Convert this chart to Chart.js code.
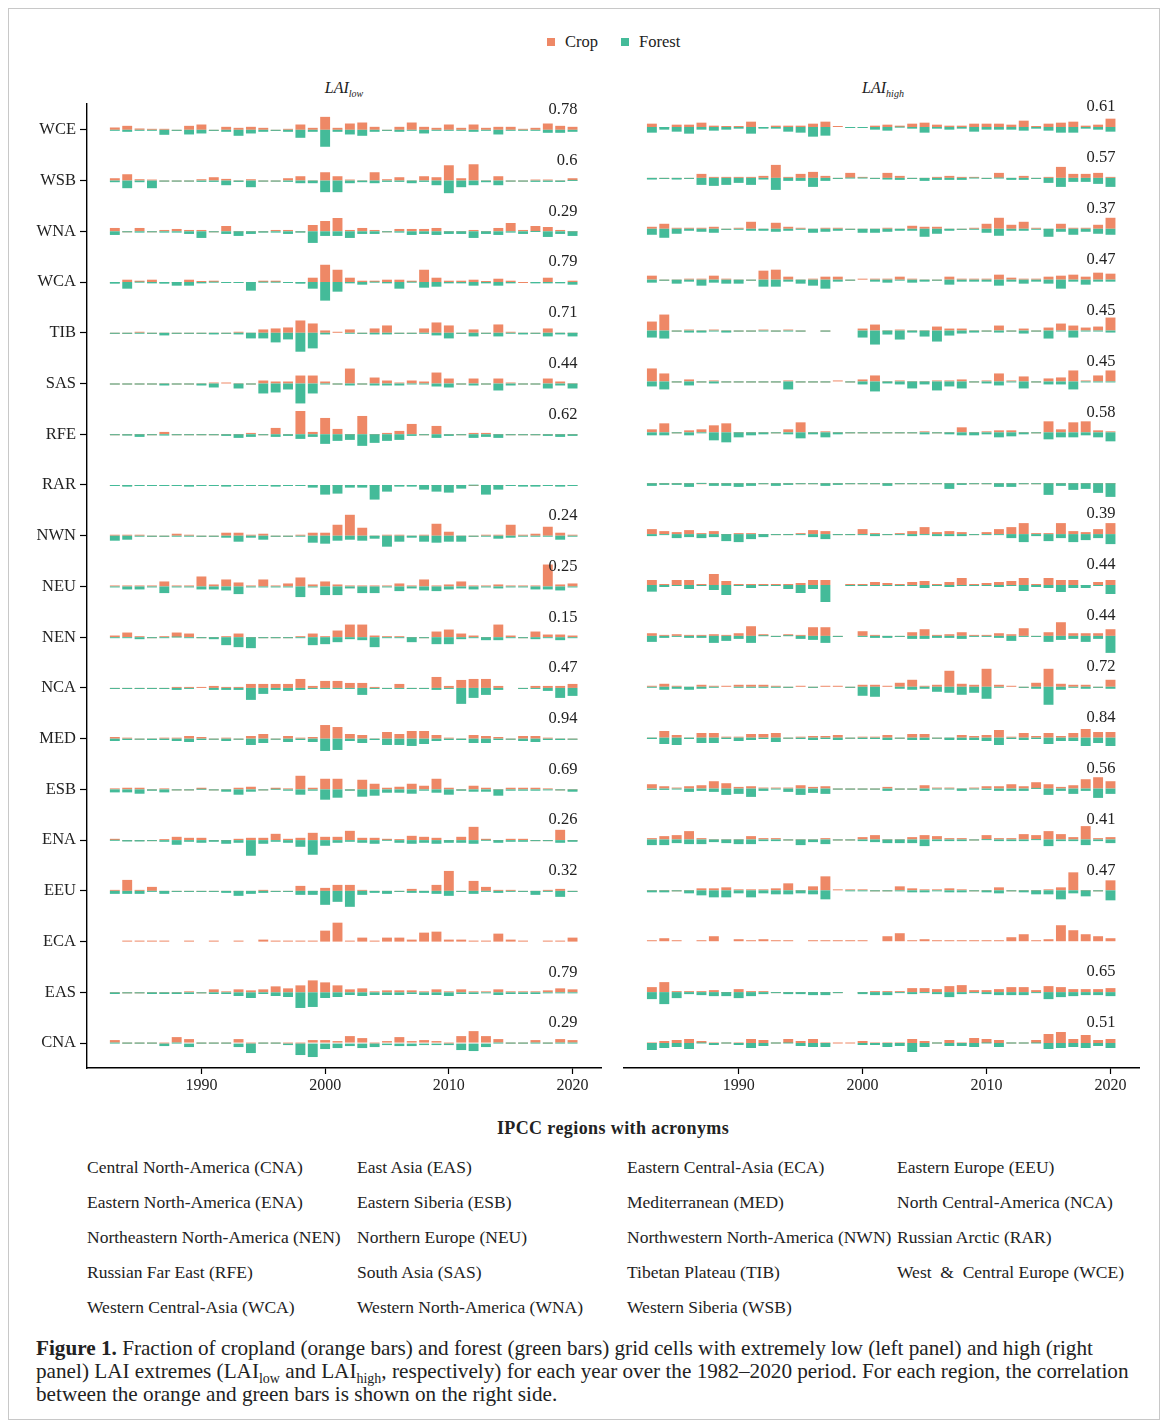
<!DOCTYPE html>
<html>
<head>
<meta charset="utf-8">
<script src="https://cdn.jsdelivr.net/npm/chart.js@4.4.1/dist/chart.umd.min.js"></script>
<style>
  body { margin: 0; background: #fff; }
  #fig { position: relative; width: 1168px; height: 1427px; font-family: "Liberation Serif", serif; color: #222; }
  #frame { position: absolute; left: 8px; top: 8px; width: 1152px; height: 1412px; border: 1px solid #c8c8c8; box-sizing: border-box; }
  .abs { position: absolute; white-space: nowrap; line-height: 1; }
  .sq { position: absolute; width: 8px; height: 8px; }
  .ttl { font-style: italic; font-size: 16px; transform: translateX(-50%); }
  .ttl sub { font-size: 10px; }
  .reg { font-size: 17.5px; }
  .cap { font-size: 21.2px; left: 36px; }
  .cap sub { font-size: 14px; line-height: 0; }
  #left { position: absolute; left: 0; top: 90px; }
  #right { position: absolute; left: 612px; top: 90px; }
</style>
</head>
<body>
<div id="fig">
  <div id="frame"></div>

  <div class="sq" style="left:547px; top:38px; background:#EE8866"></div>
  <div class="abs" style="left:565px; top:34px; font-size:16.5px">Crop</div>
  <div class="sq" style="left:621px; top:38px; background:#44BB99"></div>
  <div class="abs" style="left:639px; top:34px; font-size:16.5px">Forest</div>

  <div class="abs ttl" style="left:344px; top:80px">LAI<sub>low</sub></div>
  <div class="abs ttl" style="left:883px; top:80px">LAI<sub>high</sub></div>

  <canvas id="left" width="612" height="1010"></canvas>
  <canvas id="right" width="548" height="1010"></canvas>

  <div class="abs" style="left:613px; top:1119px; font-size:18px; letter-spacing:0.4px; font-weight:bold; transform:translateX(-50%)">IPCC regions with acronyms</div>
  <div id="names"></div>

  <div class="abs cap" style="top:1338px"><b>Figure 1.</b> Fraction of cropland (orange bars) and forest (green bars) grid cells with extremely low (left panel) and high (right</div>
  <div class="abs cap" style="top:1361px">panel) LAI extremes (LAI<sub>low</sub> and LAI<sub>high</sub>, respectively) for each year over the 1982–2020 period. For each region, the correlation</div>
  <div class="abs cap" style="top:1384px">between the orange and green bars is shown on the right side.</div>
</div>

<script>
const _ = null
const ORANGE = '#EE8866'
const GREEN = '#44BB99'
const FONT = '"Liberation Serif", serif'

const years = []
for (let y = 1983; y <= 2020; y++) years.push(y)

// regions, top to bottom
const regions = ['WCE', 'WSB', 'WNA', 'WCA', 'TIB', 'SAS', 'RFE', 'RAR', 'NWN', 'NEU',
  'NEN', 'NCA', 'MED', 'ESB', 'ENA', 'EEU', 'ECA', 'EAS', 'CNA']

const corrLow = ['0.78', '0.6', '0.29', '0.79', '0.71', '0.44', '0.62', _, '0.24', '0.25',
  '0.15', '0.47', '0.94', '0.69', '0.26', '0.32', _, '0.79', '0.29']
const corrHigh = ['0.61', '0.57', '0.37', '0.47', '0.45', '0.45', '0.58', _, '0.39', '0.44',
  '0.44', '0.72', '0.84', '0.56', '0.41', '0.47', _, '0.65', '0.51']

// LAI low, crop (bars up)
const cropLow = [
  [7,12,4,3,3,0,12,16,0,9,6,9,6,0,3,16,6,39,6,19,22,9,0,9,22,9,6,16,6,16,6,9,9,3,6,19,12,9], // WCE
  [7,19,4,2,0,0,0,4,10,5,0,4,0,0,7,13,0,25,13,2,0,25,4,10,0,13,10,46,7,49,0,13,0,0,2,2,0,7], // WSB
  [10,0,10,0,4,7,4,4,0,16,0,0,0,4,4,0,19,31,40,4,10,4,0,7,7,7,10,0,0,4,0,10,25,4,16,13,4,0], // WNA
  [0,7,4,7,0,0,7,2,4,0,0,0,4,4,0,0,13,52,37,13,4,4,7,7,4,37,13,4,4,7,2,10,4,0,0,13,0,4], // WCA
  [0,0,3,0,0,0,0,0,0,0,3,0,10,13,16,37,28,7,1,10,0,13,22,0,0,13,31,22,0,10,0,25,3,0,0,13,0,0], // TIB
  [0,0,0,0,0,0,0,0,3,2,0,0,9,6,6,24,24,6,0,45,0,18,9,3,9,6,33,15,0,15,0,15,3,0,0,15,6,0], // SAS
  [0,0,0,0,7,0,0,0,0,0,0,4,0,19,0,70,7,49,16,0,55,0,4,10,31,0,25,0,0,4,4,0,0,0,0,0,0,0], // RFE
  [0,0,0,0,0,0,0,0,0,0,0,0,0,0,0,0,0,0,0,0,0,0,0,0,0,0,0,0,0,0,0,0,0,0,0,0,0,0], // RAR
  [3,3,3,0,0,6,3,0,0,9,9,3,6,0,0,3,9,9,33,63,24,0,3,3,0,3,36,12,0,0,3,3,33,3,6,27,9,3], // NWN
  [3,3,3,3,15,3,3,30,6,21,12,3,21,3,9,27,6,15,6,3,3,3,3,9,3,21,3,6,15,3,3,6,3,3,3,66,6,9], // NEU
  [5,14,2,0,2,14,11,0,0,2,11,0,0,0,0,2,11,2,20,38,38,5,2,2,0,0,17,23,11,5,0,38,5,0,17,8,8,5], // NEN
  [0,0,0,0,0,3,3,2,6,3,3,12,12,12,12,27,6,21,21,15,15,3,0,12,0,0,33,6,24,27,27,6,_,0,6,6,6,12], // NCA
  [5,2,0,0,2,2,8,5,0,2,0,8,14,0,8,2,5,41,35,14,11,0,20,14,23,23,11,2,0,11,8,5,0,8,8,2,0,0], // MED
  [3,5,5,0,3,0,0,5,0,0,5,8,0,5,3,41,5,32,32,0,29,17,5,8,17,11,32,5,0,11,5,0,5,5,5,2,0,0], // ESB
  [4,0,0,0,1,10,7,7,0,0,4,7,7,19,4,7,22,10,10,28,7,7,4,1,13,10,7,0,10,40,4,0,4,4,0,0,31,0], // ENA
  [3,33,3,12,0,0,0,0,0,0,0,0,3,0,0,15,0,9,18,18,3,0,0,0,6,0,18,60,0,30,12,3,3,0,0,3,6,0], // EEU
  [_,1,1,1,1,_,1,_,1,_,1,_,6,1,3,1,3,33,57,3,12,3,12,12,6,27,30,6,6,3,1,24,6,1,_,1,3,12], // ECA
  [0,0,0,0,0,0,3,0,9,3,9,6,9,18,12,21,36,30,21,9,12,3,6,6,6,3,9,3,9,3,3,9,3,3,3,6,12,9], // EAS
  [9,0,0,0,0,18,12,3,0,0,12,0,3,0,0,3,9,9,6,21,15,3,6,18,6,9,6,3,21,36,21,12,0,0,9,3,12,9] // CNA
]

// LAI low, forest (bars down)
const forestLow = [
  [3,6,3,3,15,3,14,11,0,6,18,11,6,0,6,24,6,51,6,14,18,6,0,6,3,11,3,3,3,6,3,14,3,3,3,9,9,6],
  [5,23,5,23,0,0,0,4,4,14,4,20,0,0,4,8,8,35,35,8,5,8,4,4,8,4,14,38,20,14,5,14,0,0,4,4,4,1],
  [11,0,4,0,4,4,8,20,3,8,14,8,4,4,8,4,35,14,14,20,8,8,0,4,11,8,11,8,8,20,8,11,4,8,2,17,8,14],
  [5,20,2,4,5,11,11,4,2,0,0,26,2,2,0,5,20,56,29,4,8,2,4,20,2,17,14,4,4,11,4,11,4,_,4,4,4,8],
  [0,0,3,0,8,0,0,0,5,0,5,17,17,29,20,57,47,5,_,3,0,5,5,0,0,3,8,17,0,11,0,11,3,5,0,11,5,11],
  [0,0,0,0,6,0,0,6,12,_,15,0,30,27,18,60,30,3,0,6,0,6,6,6,3,3,9,12,0,6,0,21,6,0,0,15,6,15],
  [0,4,8,0,4,0,0,0,0,5,11,8,0,8,5,14,8,29,20,17,35,26,20,17,5,0,11,5,0,11,8,11,0,0,0,5,8,5],
  [0,5,0,0,0,0,5,0,0,5,0,0,0,5,0,0,8,29,26,8,8,44,20,5,5,14,20,23,11,2,29,14,0,5,5,0,5,0],
  [15,12,3,0,0,3,3,0,0,6,18,6,12,0,0,3,21,24,15,12,15,9,33,18,6,18,21,18,18,0,3,9,6,3,3,3,12,3],
  [3,9,9,3,20,3,3,9,9,12,23,3,3,3,3,32,3,26,26,6,20,20,3,14,6,12,14,9,6,9,3,6,3,3,9,9,12,3],
  [3,3,6,3,3,1,3,0,6,24,30,33,0,0,0,3,24,21,15,6,9,30,3,3,15,0,21,21,6,3,9,9,3,0,6,3,9,3],
  [3,0,0,0,0,6,3,_,6,6,6,36,18,6,9,6,3,3,3,3,21,3,0,3,0,0,6,3,48,30,21,6,_,0,3,9,30,24],
  [7,4,0,4,4,7,10,4,0,7,0,19,13,0,10,4,10,37,34,7,13,4,19,19,22,16,7,4,4,13,13,4,0,7,10,4,4,0],
  [9,9,13,4,9,0,0,1,0,7,16,7,0,1,4,16,4,31,25,4,22,19,10,10,13,4,10,16,4,7,7,19,4,4,4,3,0,7],
  [2,4,4,0,5,14,5,8,5,11,8,47,11,5,8,20,44,17,8,5,8,11,2,8,11,8,11,8,8,11,2,8,5,5,0,0,8,5],
  [9,9,9,3,9,0,0,0,0,6,15,9,6,0,0,12,12,42,33,48,12,6,9,0,6,6,9,15,0,9,3,6,3,0,12,3,18,0],
  [_,_,_,_,_,_,_,_,_,_,_,_,_,_,_,_,_,_,_,_,_,_,_,_,_,_,_,_,_,_,_,_,_,_,_,_,_,_],
  [5,0,3,5,5,5,5,0,5,5,11,17,5,11,14,47,44,17,14,8,11,8,8,8,5,8,8,11,5,5,3,8,5,5,5,3,3,3],
  [3,0,0,0,9,3,12,3,0,0,12,30,3,0,6,36,42,18,15,9,15,12,6,9,9,6,6,6,21,24,12,3,0,0,3,3,3,3]
]

// LAI high, crop
const cropHigh = [
  [10,0,7,7,13,4,1,1,16,0,4,4,4,10,16,1,0,0,4,7,4,10,13,7,4,4,10,10,10,7,19,1,10,13,16,4,7,25],
  [0,0,0,0,12,3,3,3,1,6,39,3,12,18,6,0,15,3,0,15,6,0,0,3,6,3,3,0,15,0,6,0,3,33,12,12,15,3],
  [6,15,3,2,2,6,0,3,21,0,18,6,3,0,3,3,0,0,0,3,0,9,6,6,0,0,3,15,33,12,21,1,0,15,3,1,12,33],
  [12,0,0,3,3,12,1,0,0,27,30,9,0,3,9,9,0,1,3,3,9,3,0,0,9,3,3,3,15,6,3,1,9,12,15,9,21,18],
  [27,48,0,3,0,3,0,0,0,3,0,3,0,_,0,_,_,6,18,0,3,0,0,12,6,6,0,0,15,0,6,0,9,21,15,9,12,39],
  [39,24,0,6,0,3,0,0,0,0,0,3,0,0,0,1,0,6,18,0,3,0,0,3,3,6,0,3,24,3,15,0,9,12,33,3,18,33],
  [9,27,0,6,9,21,27,0,0,0,0,9,30,0,3,0,0,0,0,0,0,0,3,0,0,15,0,3,6,6,0,0,33,9,30,33,6,3],
  [0,0,0,0,0,0,0,0,0,0,0,0,0,0,0,0,0,0,0,0,0,0,0,0,0,0,0,0,0,0,0,0,0,0,0,0,0,0],
  [15,9,6,12,3,9,0,3,3,0,0,0,3,12,9,0,0,15,3,0,3,9,21,6,9,6,0,6,15,21,33,3,3,33,9,6,15,33],
  [15,3,15,15,3,33,12,3,3,3,3,3,6,15,15,_,3,3,9,6,3,9,12,3,9,21,3,6,9,12,21,3,21,15,15,0,9,15],
  [8,2,5,2,2,5,2,8,29,5,0,5,2,26,26,0,_,14,2,0,0,11,20,2,5,11,2,2,8,5,23,0,11,41,8,8,8,20],
  [3,9,3,0,6,3,1,6,6,6,3,0,1,0,1,1,0,6,6,1,12,21,3,6,48,9,6,54,6,1,0,12,54,9,6,6,0,21],
  [0,20,8,0,14,14,2,2,11,11,14,0,2,5,5,8,0,2,2,8,0,11,11,0,0,8,5,8,23,2,14,5,14,5,14,26,17,17],
  [13,7,2,7,10,22,16,5,7,2,2,2,10,5,7,0,0,0,0,5,0,0,10,2,2,0,2,7,7,13,7,19,13,5,10,28,34,22],
  [4,10,13,25,4,0,0,0,10,4,4,0,0,0,4,0,0,7,13,0,0,7,13,10,4,4,0,13,4,4,16,13,25,16,7,40,4,7],
  [0,0,0,0,6,6,9,3,3,3,6,21,0,12,42,1,3,3,0,0,12,6,3,3,6,3,0,0,9,0,0,0,3,9,54,0,0,30],
  [3,9,1,_,3,15,_,6,1,6,1,3,_,3,1,1,1,1,_,15,24,3,6,1,3,1,1,3,1,12,21,1,6,48,33,21,15,9],
  [15,30,3,3,3,6,0,9,3,3,0,0,0,0,0,0,_,0,3,3,3,12,12,9,18,21,6,6,9,15,15,6,18,15,9,9,9,12],
  [3,6,9,12,6,0,0,0,12,9,3,12,6,12,3,1,1,6,3,3,0,12,6,0,9,3,15,12,9,3,3,9,27,33,12,24,9,12]
]

// LAI high, forest
const forestHigh = [
  [17,8,14,20,8,11,8,5,20,5,5,14,17,29,26,_,0,0,8,11,2,5,17,5,8,5,14,8,8,8,11,5,11,17,17,5,8,14],
  [5,0,5,0,21,24,21,15,21,5,36,9,9,27,9,0,2,2,0,5,6,0,9,6,6,6,2,0,2,6,6,0,15,27,12,12,18,27],
  [18,27,15,6,9,12,0,3,6,6,9,6,3,12,9,6,0,12,12,9,6,6,24,15,6,0,3,12,21,6,6,3,24,9,18,9,15,18],
  [9,0,12,6,18,9,12,12,0,21,21,6,12,18,27,6,0,_,6,9,3,9,6,0,15,6,6,6,18,6,12,6,12,27,6,15,6,6],
  [21,24,0,6,6,3,6,0,0,3,0,3,0,_,0,_,_,21,42,12,27,6,18,33,15,9,6,0,6,0,9,0,24,3,21,3,3,6],
  [15,24,0,12,0,6,0,0,0,0,0,24,0,0,0,_,0,9,30,6,9,21,9,27,15,21,0,6,12,3,21,0,9,9,24,3,3,3],
  [9,9,0,9,3,24,30,15,9,6,0,6,18,6,15,6,0,0,0,0,0,0,6,0,6,9,9,6,15,12,6,0,21,15,15,9,15,27],
  [8,5,5,11,2,8,8,11,8,0,8,5,0,0,8,5,0,0,0,8,0,0,0,0,17,5,0,0,11,11,0,0,35,8,20,17,29,41],
  [6,3,12,9,12,9,21,24,15,9,0,0,3,9,15,0,0,3,6,0,3,6,3,6,6,6,0,3,3,12,24,6,21,12,24,18,12,30],
  [20,6,0,12,0,15,30,0,9,0,0,12,24,12,51,_,0,0,0,0,0,0,9,0,6,0,0,0,6,0,18,6,9,21,9,9,0,27],
  [18,6,3,6,6,21,15,9,21,1,0,1,9,12,21,0,_,3,6,6,3,9,9,6,6,9,3,3,6,15,3,0,18,12,9,18,9,51],
  [3,9,6,9,6,3,_,3,0,3,3,0,_,0,_,_,3,27,30,_,6,9,6,15,18,24,18,36,0,_,0,6,54,9,3,6,0,6],
  [4,19,22,4,16,16,4,10,7,4,13,0,4,7,4,7,0,4,4,7,0,7,7,0,7,7,7,10,22,4,7,4,19,10,10,25,16,25],
  [4,4,3,10,7,10,19,16,25,7,3,10,19,13,16,0,0,0,0,7,0,0,7,3,3,7,3,4,7,7,7,1,19,7,16,7,28,16],
  [17,17,11,14,14,8,11,14,14,5,5,0,17,8,14,0,0,5,8,11,11,11,20,5,5,5,0,2,5,5,5,2,20,5,5,17,5,11],
  [6,6,0,9,15,21,21,9,21,9,12,12,9,12,27,_,3,3,0,0,3,6,6,3,6,6,0,6,9,0,6,12,12,27,9,18,0,30],
  [_,_,_,_,_,_,_,_,_,_,_,_,_,_,_,_,_,_,_,_,_,_,_,_,_,_,_,_,_,_,_,_,_,_,_,_,_,_],
  [21,36,18,6,9,12,12,18,12,6,0,6,6,9,9,0,_,6,9,9,3,6,3,6,15,6,3,6,9,9,9,3,21,15,12,9,9,12],
  [21,15,12,18,3,6,3,6,15,9,3,3,9,12,12,_,_,6,6,12,9,27,12,0,9,9,12,3,12,3,3,3,18,15,12,15,9,15]
]

const regionNames = [
  ['Central North-America (CNA)', 'East Asia (EAS)', 'Eastern Central-Asia (ECA)', 'Eastern Europe (EEU)'],
  ['Eastern North-America (ENA)', 'Eastern Siberia (ESB)', 'Mediterranean (MED)', 'North Central-America (NCA)'],
  ['Northeastern North-America (NEN)', 'Northern Europe (NEU)', 'Northwestern North-America (NWN)', 'Russian Arctic (RAR)'],
  ['Russian Far East (RFE)', 'South Asia (SAS)', 'Tibetan Plateau (TIB)', 'West  &  Central Europe (WCE)'],
  ['Western Central-Asia (WCA)', 'Western North-America (WNA)', 'Western Siberia (WSB)', '']
]

// one row step in value units (values are read at 3 units per pixel)
const ROW = 152.7
const rowBase = i => (regions.length - 1 - i) * ROW

function points(values, dir) {
  const pts = []
  values.forEach((row, i) => {
    const b = rowBase(i)
    row.forEach((v, j) => {
      if (v == null) return
      pts.push({ x: years[j], y: dir > 0 ? [b, b + v] : [b - v, b] })
    })
  })
  return pts
}

const corrPlugin = {
  id: 'corr',
  afterDatasetsDraw(chart, args, opts) {
    const { ctx, scales: { x, y } } = chart
    ctx.save()
    ctx.font = '16.5px ' + FONT
    ctx.fillStyle = '#222'
    ctx.textAlign = 'right'
    ctx.textBaseline = 'middle'
    opts.values.forEach((c, i) => {
      if (c == null) return
      ctx.fillText(c, x.getPixelForValue(2020.4), y.getPixelForValue(rowBase(i)) - 20)
    })
    ctx.restore()
  }
}

function makeChart(id, crop, forest, corr, showY, pad) {
  const bar = { grouped: false, barPercentage: 0.8, categoryPercentage: 1, minBarLength: 1, borderWidth: 0 }
  return new Chart(id, {
    type: 'bar',
    plugins: [corrPlugin],
    data: {
      datasets: [
        { label: 'Forest', data: points(forest, -1), backgroundColor: GREEN, order: 0, ...bar },
        { label: 'Crop', data: points(crop, 1), backgroundColor: ORANGE, order: 1, ...bar }
      ]
    },
    options: {
      responsive: false,
      animation: false,
      layout: { padding: pad },
      plugins: { legend: { display: false }, tooltip: { enabled: false }, corr: { values: corr } },
      scales: {
        x: {
          type: 'linear',
          offset: false,
          min: 1980.75,
          max: 2022.3,
          afterBuildTicks: s => { s.ticks = [1990, 2000, 2010, 2020].map(v => ({ value: v })) },
          afterFit: s => { s.height = 32 },
          grid: { offset: false, drawOnChartArea: false, tickLength: 6, tickColor: '#000', tickWidth: 1.2 },
          border: { color: '#000', width: 1.4 },
          ticks: { color: '#222', padding: 2, font: { family: FONT, size: 16 }, callback: v => String(v) }
        },
        y: {
          type: 'linear',
          display: showY,
          min: -75,
          max: 18 * ROW + 78,
          afterBuildTicks: s => { s.ticks = regions.map((r, i) => ({ value: rowBase(i) })) },
          afterFit: s => { s.width = showY ? 87 : 0 },
          grid: { drawOnChartArea: false, tickLength: 7, tickColor: '#000', tickWidth: 1.2 },
          border: { color: '#000', width: 1.4 },
          ticks: { color: '#222', padding: 4, font: { family: FONT, size: 16.5 }, callback: (v, i) => regions[i] }
        }
      }
    }
  })
}

makeChart('left', cropLow, forestLow, corrLow, true, { top: 11, right: 11, left: 0, bottom: 0 })
makeChart('right', cropHigh, forestHigh, corrHigh, false, { top: 11, right: 21, left: 12, bottom: 0 })

// region list under the panels
const colX = [87, 357, 627, 897]
const names = document.getElementById('names')
regionNames.forEach((row, r) => {
  row.forEach((t, c) => {
    if (!t) return
    const d = document.createElement('div')
    d.className = 'abs reg'
    d.style.left = colX[c] + 'px'
    d.style.top = (1159 + r * 35) + 'px'
    d.style.whiteSpace = 'pre'
    d.textContent = t
    names.appendChild(d)
  })
})
</script>
</body>
</html>
